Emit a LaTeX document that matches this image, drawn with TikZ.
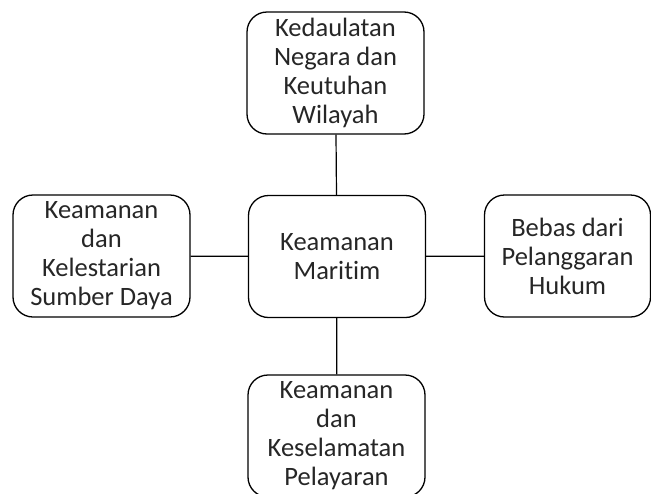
\documentclass[tikz,border=0pt]{standalone}
\usepackage{fontspec}
\setmainfont{Carlito}[Ligatures=NoCommon]
\usepackage{tikz}

\begin{document}
\begin{tikzpicture}[x=1pt, y=-1pt,
    box/.style={draw, line width=1.3pt, rounded corners=20pt, align=center,
                minimum height=122pt, inner sep=0pt,
                font=\fontsize{26.5}{29}\selectfont, text=black!85},
    link/.style={line width=1.2pt}]
    % Fix the page size
    \useasboundingbox (0, 0) rectangle (651, 493);

    % Draw the boxes
    \node[box, minimum width=177pt] (maritim) at (337, 256.5) {Keamanan\\Maritim};
    \node[box, minimum width=177pt] (negara) at (335.5, 73) {Kedaulatan\\Negara dan\\Keutuhan\\Wilayah};
    \node[box, minimum width=177pt] (sumber) at (101.5, 256) {Keamanan\\dan\\Kelestarian\\Sumber Daya};
    \node[box, minimum width=166pt] (hukum) at (567.5, 256) {Bebas dari\\Pelanggaran\\Hukum};
    \node[box, minimum width=177pt] (pelayaran) at (336.5, 436) {Keamanan\\dan\\Keselamatan\\Pelayaran};

    % Draw the links
    \draw[link] (maritim) -- (negara);
    \draw[link] (maritim) -- (sumber);
    \draw[link] (maritim) -- (hukum);
    \draw[link] (maritim) -- (pelayaran);
\end{tikzpicture}
\end{document}
